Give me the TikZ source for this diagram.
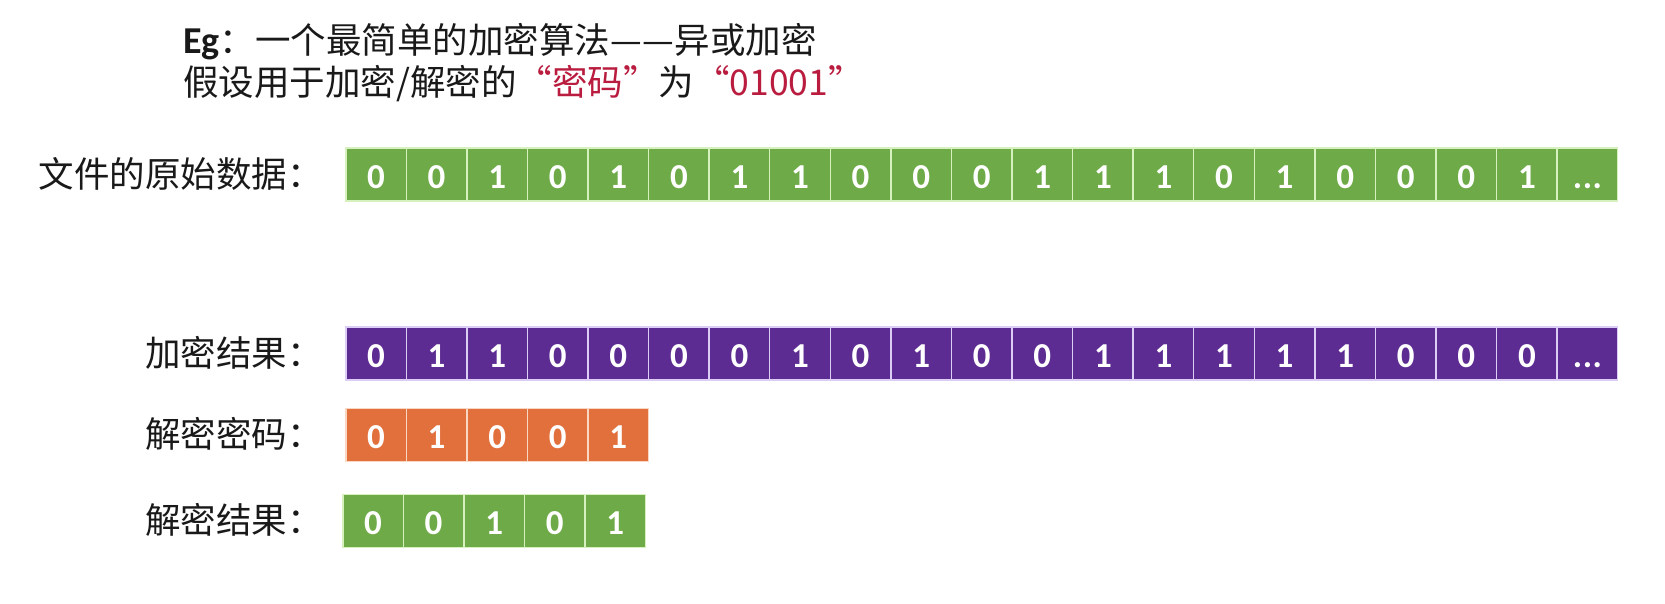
\documentclass[tikz,border=0pt]{standalone}
\usepackage{fontspec}
\setmainfont{Carlito}
\newfontfamily\cjk{Noto Sans CJK SC}
\newcommand\celldots{.\kern0.5pt.\kern0.5pt.}
\definecolor{cgreen}{RGB}{110,170,72}
\definecolor{cgreenl}{RGB}{214,240,190}
\definecolor{cpurple}{RGB}{92,44,146}
\definecolor{cpurplel}{RGB}{220,205,245}
\definecolor{corange}{RGB}{226,112,60}
\definecolor{corangel}{RGB}{250,215,195}
\definecolor{cred}{RGB}{185,28,62}
\definecolor{ctext}{RGB}{25,25,25}
\begin{document}
\begin{tikzpicture}[x=1pt,y=-1pt,
  cell/.style={draw=#1, line width=1.5pt, minimum width=60.57pt, minimum height=53pt,
    inner sep=0pt, text height=28pt, text depth=0pt, anchor=north west,
    font=\fontsize{35}{35}\selectfont\bfseries, text=white},
  rowlabel/.style={anchor=east, inner sep=0pt, text=ctext, font=\cjk\fontsize{35.5}{35.5}\selectfont},
  titleline/.style={anchor=west, inner sep=0pt, text=ctext, font=\cjk\fontsize{35.5}{35.5}\selectfont}]
\useasboundingbox (0,0) rectangle (1665,603);
\fill[white] (0,0) rectangle (1665,603);
% title
\node[titleline] (t1) at (183,42) {{\fontspec{Carlito}\bfseries\fontsize{38}{38}\selectfont Eg}：一个最简单的加密算法—\kern1pt—异或加密};
\node[titleline] (t2) at (183,84) {假设用于加密/解密的\textcolor{cred}{“密码”}为\textcolor{cred}{“01001”}};
% labels
\node[rowlabel] (l1) at (323,173.5) {文件的原始数据：};
\node[rowlabel] (l2) at (323,352.5) {加密结果：};
\node[rowlabel] (l3) at (323,434) {解密密码：};
\node[rowlabel] (l4) at (323,520) {解密结果：};
% row 1 original data
\foreach \d [count=\i] in {0,0,1,0,1,0,1,1,0,0,0,1,1,1,0,1,0,0,0,1,\celldots}
  \node[cell=cgreenl, fill=cgreen] (a\i) at ({345+(\i-1)*60.57},147) {\d};
% row 2 encrypted
\foreach \d [count=\i] in {0,1,1,0,0,0,0,1,0,1,0,0,1,1,1,1,1,0,0,0,\celldots}
  \node[cell=cpurplel, fill=cpurple] (b\i) at ({345+(\i-1)*60.57},326) {\d};
% row 3 key
\foreach \d [count=\i] in {0,1,0,0,1}
  \node[cell=corangel, fill=corange] (c\i) at ({345+(\i-1)*60.57},407.5) {\d};
% row 4 decrypted
\foreach \d [count=\i] in {0,0,1,0,1}
  \node[cell=cgreenl, fill=cgreen] (d\i) at ({342+(\i-1)*60.57},493.5) {\d};
\end{tikzpicture}
\end{document}
